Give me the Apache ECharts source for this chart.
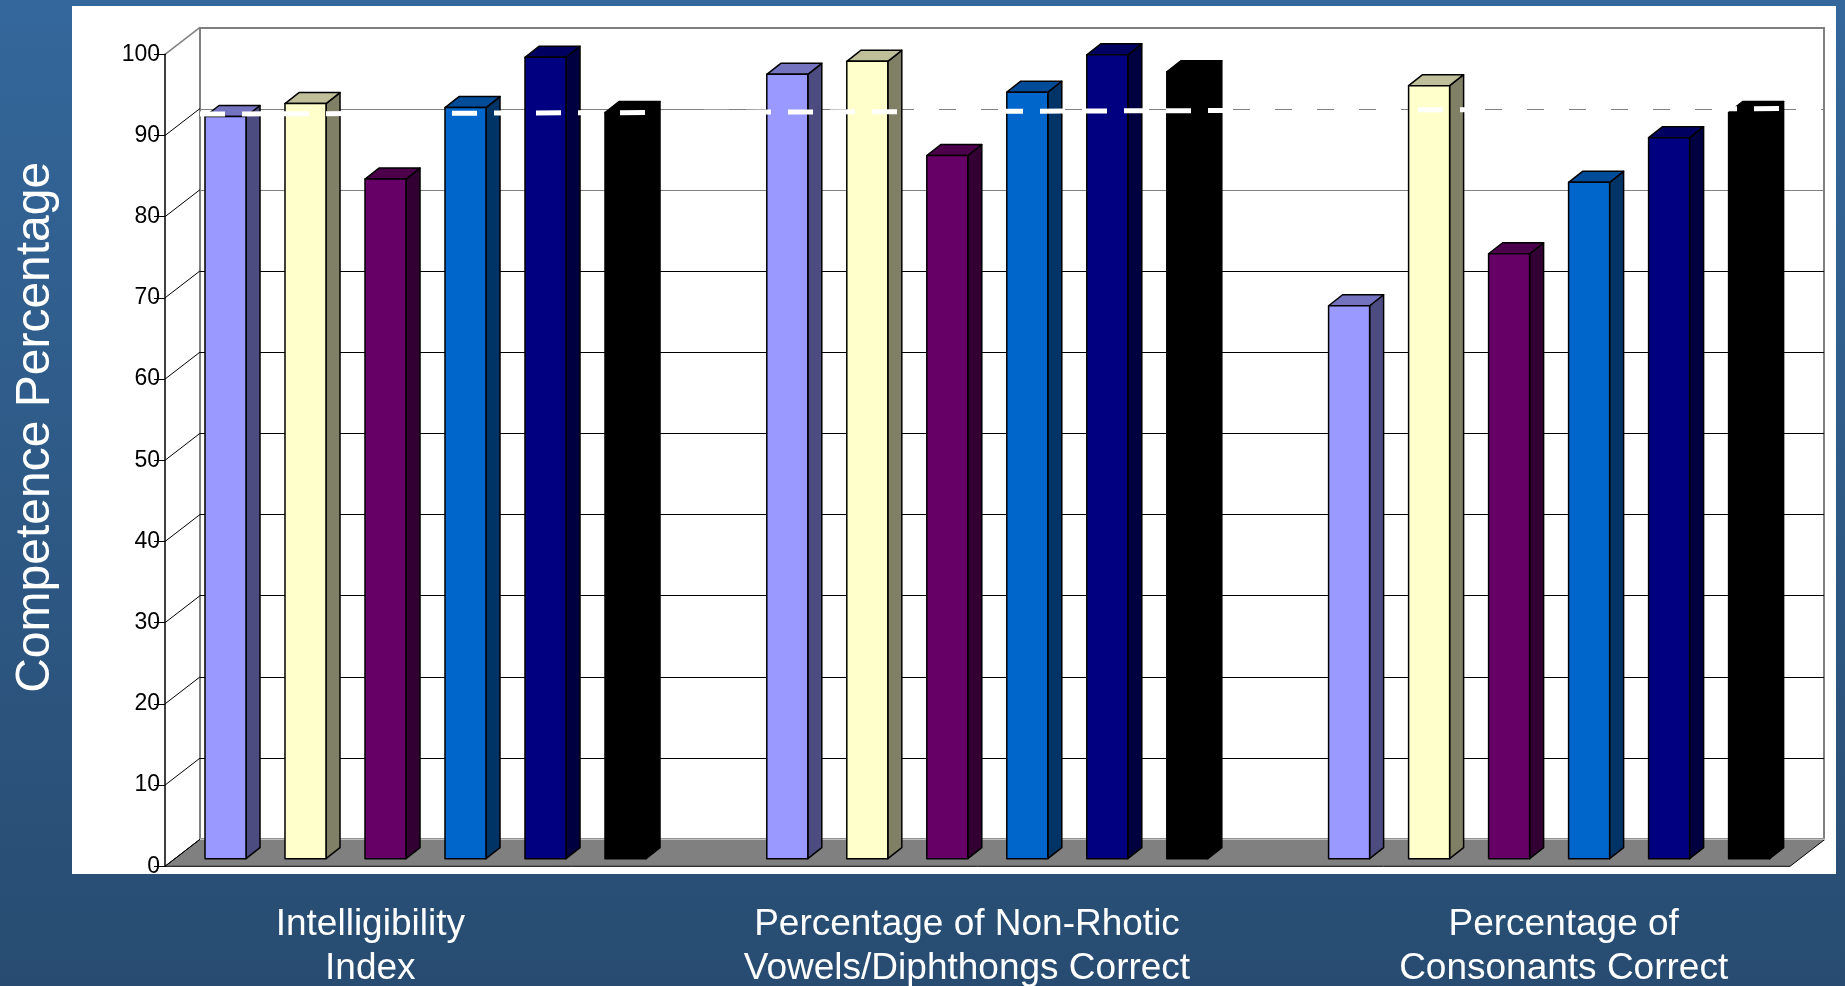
<!DOCTYPE html>
<html>
<head>
<meta charset="utf-8">
<title>Competence Percentage</title>
<script src="https://cdn.jsdelivr.net/npm/echarts@6/dist/echarts.min.js"></script>
<style>
html, body { margin: 0; padding: 0; }
#chart { width: 1845px; height: 986px; }
</style>
</head>
<body>
<div id="chart"></div>
<script>
// categories along the floor
var categories = [
    'Intelligibility\nIndex',
    'Percentage of Non-Rhotic\nVowels/Diphthongs Correct',
    'Percentage of\nConsonants Correct'
];

// one array per bar colour, one value per category
var lavender = [91.4, 96.6, 68.1];
var cream    = [93.0, 98.2, 95.2];
var purple   = [83.7, 86.6, 74.5];
var blue     = [92.5, 94.4, 83.3];
var navy     = [98.7, 99.0, 88.8];
var black    = [91.9, 96.9, 91.9];

var yTicks = [0, 10, 20, 30, 40, 50, 60, 70, 80, 90, 100];

// white dashed reference line, start and end value
var refLine = [91.7, 92.4];

var seriesData = [lavender, cream, purple, blue, navy, black];

// front / side / top colours of each bar
var palette = [
    { front: '#9999FF', side: '#4C4C80', top: '#7373BF' },
    { front: '#FFFFCC', side: '#808066', top: '#BFBF99' },
    { front: '#660066', side: '#330033', top: '#4C004C' },
    { front: '#0066CC', side: '#003366', top: '#004C99' },
    { front: '#000080', side: '#000040', top: '#000060' },
    { front: '#000000', side: '#000000', top: '#000000' }
];

var FONT = 'Arial, "Liberation Sans", sans-serif';
var DEPTH_X = 35, DEPTH_Y = 27;   // box depth
var BAR_DX = 14, BAR_DY = 11;     // bar depth

var chart = echarts.init(document.getElementById('chart'));

function barRenderer(k) {
    return function (params, api) {
        var base = api.coord([api.value(0), 0]);
        var top = api.coord([api.value(0), api.value(1)]);
        var band = api.size([1, 0])[0];
        var pitch = band * 0.1424;
        var bw = band * 0.073;
        var x = base[0] + (k - 2.5) * pitch - bw / 2;
        var yb = base[1], yt = top[1];
        var c = palette[k];
        var edge = { stroke: '#000', lineWidth: 1.5, lineJoin: 'round' };
        return {
            type: 'group',
            children: [
                {
                    type: 'polygon',
                    shape: { points: [[x + bw, yb], [x + bw + BAR_DX, yb - BAR_DY], [x + bw + BAR_DX, yt - BAR_DY], [x + bw, yt]] },
                    style: Object.assign({ fill: c.side }, edge)
                },
                {
                    type: 'polygon',
                    shape: { points: [[x, yt], [x + BAR_DX, yt - BAR_DY], [x + bw + BAR_DX, yt - BAR_DY], [x + bw, yt]] },
                    style: Object.assign({ fill: c.top }, edge)
                },
                {
                    type: 'rect',
                    shape: { x: x, y: yt, width: bw, height: yb - yt },
                    style: Object.assign({ fill: c.front }, edge)
                }
            ]
        };
    };
}

// floor and left side wall lines
function frameRenderer(params, api) {
    var cs = params.coordSys;
    var v = api.value(1);
    var p = api.coord([0, v]);
    var children = [{
        type: 'line',
        shape: { x1: p[0], y1: p[1], x2: p[0] + DEPTH_X, y2: p[1] - DEPTH_Y },
        style: { stroke: v === 100 ? '#808080' : '#000', lineWidth: v === 100 ? 1.5 : 1 }
    }];
    if (v === 0) {
        var x0 = cs.x, x1 = cs.x + cs.width, y0 = cs.y + cs.height;
        children.unshift({
            type: 'polygon',
            shape: { points: [[x0, y0], [x1, y0], [x1 + DEPTH_X, y0 - DEPTH_Y], [x0 + DEPTH_X, y0 - DEPTH_Y]] },
            style: { fill: '#808080', stroke: '#000', lineWidth: 1 }
        });
        children.push({
            type: 'line',
            shape: { x1: x0 + DEPTH_X, y1: y0 - DEPTH_Y, x2: x1 + DEPTH_X, y2: y0 - DEPTH_Y },
            style: { stroke: '#c0c0c0', lineWidth: 1.5 }
        });
    }
    return { type: 'group', children: children };
}

var series = [{
    type: 'custom',
    name: 'frame',
    xAxisIndex: 2,
    yAxisIndex: 2,
    z: 1,
    silent: true,
    renderItem: frameRenderer,
    data: yTicks.map(function (t) { return [0, t]; })
}];

seriesData.forEach(function (vals, k) {
    series.push({
        type: 'custom',
        name: 'Series ' + (k + 1),
        xAxisIndex: 3,
        yAxisIndex: 3,
        z: 3,
        renderItem: barRenderer(k),
        data: vals.map(function (v, i) { return [i, v]; })
    });
});

series.push({
    type: 'line',
    name: 'reference',
    xAxisIndex: 4,
    yAxisIndex: 4,
    z: 6,
    symbol: 'none',
    silent: true,
    lineStyle: { color: '#fff', width: 5, type: [25, 17] },
    data: [[0, refLine[0]], [1, refLine[1]]]
});

var hiddenValue = function (idx) {
    return { gridIndex: idx, type: 'value', min: 0, max: 1, show: false };
};
var hiddenY = function (idx) {
    return { gridIndex: idx, type: 'value', min: 0, max: 100, show: false, splitLine: { show: false } };
};

var option = {
    backgroundColor: new echarts.graphic.LinearGradient(0, 0, 0, 1, [
        { offset: 0, color: '#34679b' },
        { offset: 1, color: '#284c71' }
    ]),
    textStyle: { fontFamily: FONT },
    animation: false,
    grid: [
        { left: 72, top: 6, right: 9, bottom: 112, show: true, backgroundColor: '#fff', borderWidth: 0, outerBoundsMode: 'none' },
        { left: 200, top: 28, right: 21, bottom: 147, show: true, backgroundColor: 'transparent', borderColor: '#808080', borderWidth: 2, outerBoundsMode: 'none' },
        { left: 165, top: 54.3, right: 55, bottom: 119.7, outerBoundsMode: 'none' },
        { left: 144.6, top: 46.7, right: 15, bottom: 127.3, outerBoundsMode: 'none' },
        { left: 200, top: 46.7, right: 21, bottom: 127.3, outerBoundsMode: 'none' },
        { left: 72, top: 6, right: -17, bottom: 112, outerBoundsMode: 'none' }
    ],
    xAxis: [
        hiddenValue(0),
        hiddenValue(1),
        hiddenValue(2),
        { gridIndex: 3, type: 'category', data: categories, show: false },
        hiddenValue(4),
        {
            gridIndex: 5,
            type: 'category',
            data: categories,
            axisLine: { show: false },
            axisTick: { show: false },
            axisLabel: {
                interval: 0,
                color: '#fff',
                fontSize: 37,
                lineHeight: 44,
                margin: 29,
                fontFamily: FONT
            }
        }
    ],
    yAxis: [
        hiddenY(0),
        {
            gridIndex: 1,
            type: 'value',
            min: 0,
            max: 100,
            interval: 10,
            axisLine: { show: false },
            axisTick: { show: false },
            axisLabel: { show: false },
            splitLine: {
                show: true,
                lineStyle: {
                    width: 1,
                    color: ['#c0c0c0', '#000', '#000', '#000', '#000', '#000', '#000', '#000', '#808080', '#808080', '#808080']
                }
            }
        },
        {
            gridIndex: 2,
            type: 'value',
            min: 0,
            max: 100,
            interval: 10,
            z: 4,
            name: 'Competence Percentage',
            nameLocation: 'middle',
            nameRotate: 90,
            nameGap: 105,
            nameTextStyle: { color: '#fff', fontSize: 48, fontFamily: FONT, padding: [0, 0, 0, 66] },
            axisLine: { show: true, lineStyle: { color: '#000', width: 1.5 } },
            axisTick: { show: true, length: 11, lineStyle: { color: '#000', width: 1 } },
            axisLabel: { color: '#000', fontSize: 23, margin: 5, fontFamily: FONT },
            splitLine: { show: false }
        },
        hiddenY(3),
        hiddenY(4),
        { gridIndex: 5, type: 'value', show: false, splitLine: { show: false } }
    ],
    series: series
};

option && chart.setOption(option);
</script>
</body>
</html>
